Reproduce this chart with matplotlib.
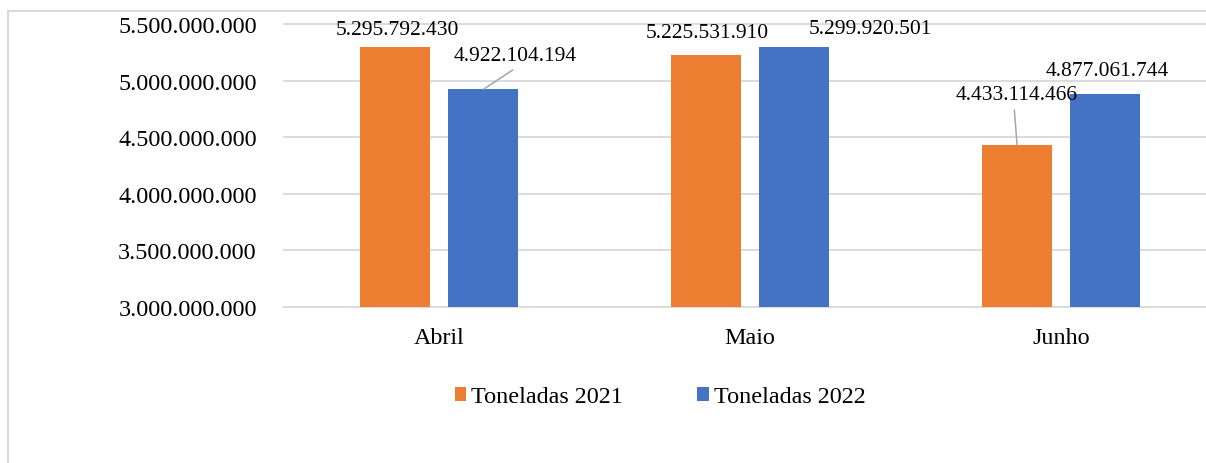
import matplotlib
matplotlib.use("Agg")
import matplotlib.pyplot as plt
from matplotlib.patches import Rectangle, Patch
from matplotlib.ticker import FuncFormatter, MultipleLocator
import numpy as np

# ---- data ----
categories = ["Abril", "Maio", "Junho"]
series_names = ["Toneladas 2021", "Toneladas 2022"]
toneladas_2021 = [5295792430, 5225531910, 4433114466]
toneladas_2022 = [4922104194, 5299920501, 4877061744]

# ---- style ----
colors = ["#ED7D31", "#4472C4"]
grid_color = "#D9D9D9"
font = "Liberation Serif"
plt.rcParams["font.family"] = [font, "DejaVu Serif"]

W, H, DPI = 1206, 464, 100
fig = plt.figure(figsize=(W / DPI, H / DPI), dpi=DPI)

ax_left, ax_right = 283.7, 1216.7
ax_top, ax_bottom = 25.0, 307.7
ax = fig.add_axes([ax_left / W, 1 - ax_bottom / H,
                   (ax_right - ax_left) / W, (ax_bottom - ax_top) / H])

x = np.arange(len(categories))
bar_w = 0.225
offset = 0.142
series = [toneladas_2021, toneladas_2022]
bar_groups = []
for i, (vals, col) in enumerate(zip(series, colors)):
    bars = ax.bar(x + (i - 0.5) * 2 * offset, vals, width=bar_w, color=col,
                  zorder=3, label=series_names[i])
    bar_groups.append(bars)

ymin, ymax = 3.0e9, 5.5e9
ax.set_xlim(-0.5, 2.5)
ax.set_ylim(ymin, ymax)
ax.yaxis.set_major_locator(MultipleLocator(5e8))
ax.yaxis.set_major_formatter(FuncFormatter(lambda v, p: f"{v:,.0f}".replace(",", ".")))
ax.set_xticks(x)
ax.set_xticklabels(categories)

for s in ax.spines.values():
    s.set_visible(False)
ax.tick_params(axis="both", length=0, labelsize=17.4, colors="black")
ax.tick_params(axis="y", pad=19.4)
ax.tick_params(axis="x", pad=14.5)
for t in ax.get_yticks():
    if ymin - 1 <= t <= ymax + 1:
        ax.axhline(t, color=grid_color, lw=1.3, zorder=1, clip_on=False)

# data labels: (dx, dy) pixel offsets of label centre from bar top-centre
label_offsets = [
    [(2, 18), (1.5, 23), (0, 50)],
    [(32, 34), (76.5, 18.4), (2, 24)],
]
# leader lines: (series, index, dx, dy) end point offsets
leaders = [(1, 0, 29.4, 19.4), (0, 2, -2.7, 34.7)]

def fmt(v):
    return f"{v:,.0f}".replace(",", ".")

for si, bars in enumerate(bar_groups):
    for bi, b in enumerate(bars):
        bx = b.get_x() + b.get_width() / 2
        by = b.get_height()
        dx, dy = label_offsets[si][bi]
        ax.annotate(fmt(series[si][bi]), xy=(bx, by), xytext=(dx, dy),
                    textcoords="offset pixels", ha="center", va="center",
                    fontsize=15.5, color="black", zorder=5, annotation_clip=False)

for si, bi, dx, dy in leaders:
    b = bar_groups[si][bi]
    bx = b.get_x() + b.get_width() / 2
    by = b.get_height()
    ax.annotate("", xy=(bx, by), xytext=(dx, dy), textcoords="offset pixels",
                arrowprops=dict(arrowstyle="-", color="#A6A6A6", lw=1.1,
                                shrinkA=0, shrinkB=0), zorder=4)

handles = [Patch(facecolor=c, edgecolor="none") for c in colors]
fig.legend(handles, series_names, loc="center", bbox_to_anchor=(660 / W, 1 - 398 / H),
           ncol=2, frameon=False, fontsize=17.4, handlelength=0.47, handleheight=0.47,
           handletextpad=0.2, columnspacing=3.1, borderaxespad=0)

# outer chart border (left and top visible)
fig.add_artist(Rectangle((8 / W, -0.2), 1.5, (H - 12) / H + 0.2,
                         transform=fig.transFigure, fill=False,
                         edgecolor=grid_color, lw=1.5, zorder=0))

fig.savefig("out.png", dpi=DPI)
